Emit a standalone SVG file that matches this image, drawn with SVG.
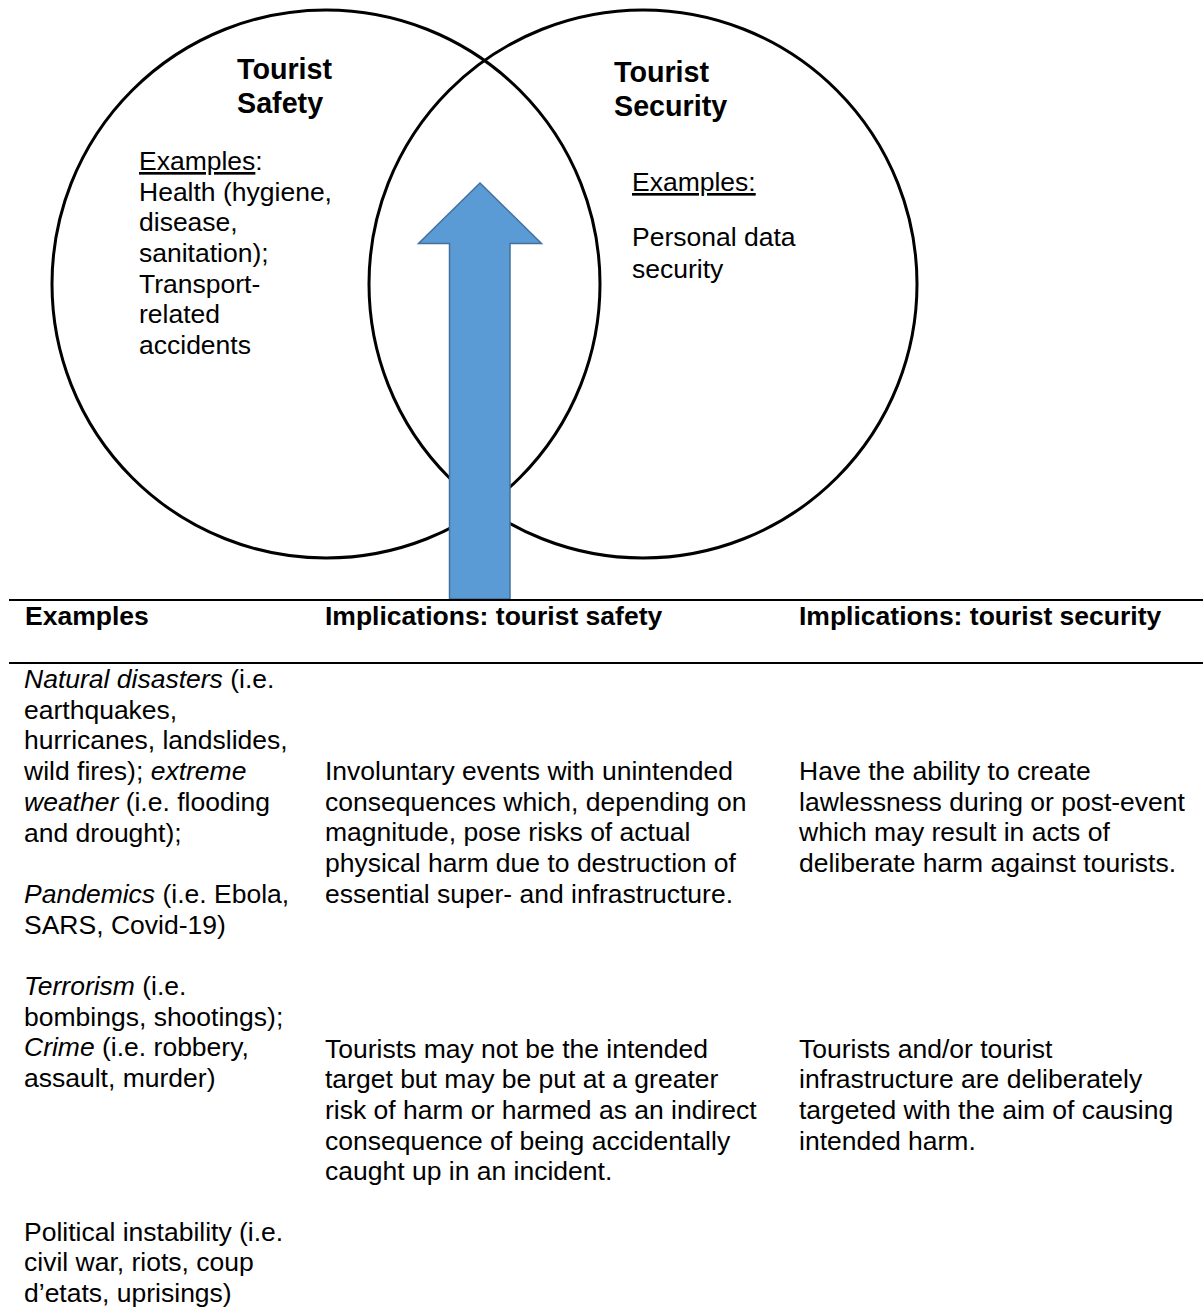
<svg xmlns="http://www.w3.org/2000/svg" width="1203" height="1307" viewBox="0 0 1203 1307">
<style>
.t{font-family:"Liberation Sans",Arial,sans-serif;font-size:26.5px;fill:#000}
.h{font-family:"Liberation Sans",Arial,sans-serif;font-size:28.7px;font-weight:bold;fill:#000}
.b{font-weight:bold}
.i{font-style:italic}
.u{text-decoration:underline}
.ring{fill:none;stroke:#000;stroke-width:3}
.rule{stroke:#000;stroke-width:2.2}
.arrow{fill:#5B9BD5;stroke:#41719C;stroke-width:1.5}
</style>
<rect width="1203" height="1307" fill="#fff"/>
<g id="safety">
  <circle class="ring" cx="326" cy="284" r="274"/>
  <text class="h" x="237" y="79">Tourist</text>
  <text class="h" x="237" y="113">Safety</text>
  <text class="t" x="139" y="170"><tspan class="u">Examples</tspan>:</text>
  <text class="t" x="139" y="200.7">Health (hygiene,</text>
  <text class="t" x="139" y="231.4">disease,</text>
  <text class="t" x="139" y="262">sanitation);</text>
  <text class="t" x="139" y="292.7">Transport-</text>
  <text class="t" x="139" y="323.4">related</text>
  <text class="t" x="139" y="354">accidents</text>
</g>
<g id="security">
  <circle class="ring" cx="643" cy="284" r="274"/>
  <text class="h" x="614" y="82">Tourist</text>
  <text class="h" x="614" y="116">Security</text>
  <text class="t u" x="632" y="191">Examples:</text>
  <text class="t" x="632" y="246">Personal data</text>
  <text class="t" x="632" y="277.5">security</text>
</g>
<g id="connectors">
  <polygon class="arrow" points="480,183 541.5,243.5 510,243.5 510,599 449.5,599 449.5,243.5 418.5,243.5"/>
</g>
<g id="table">
  <line class="rule" x1="9" y1="600" x2="1203" y2="600"/>
  <line class="rule" x1="9" y1="663" x2="1203" y2="663"/>
  <text class="t b" x="25" y="625">Examples</text>
  <text class="t b" x="325" y="625">Implications: tourist safety</text>
  <text class="t b" x="799" y="625">Implications: tourist security</text>

  <text class="t" x="24" y="688"><tspan class="i">Natural disasters</tspan> (i.e.</text>
  <text class="t" x="24" y="718.7">earthquakes,</text>
  <text class="t" x="24" y="749.4">hurricanes, landslides,</text>
  <text class="t" x="24" y="780.1">wild fires); <tspan class="i">extreme</tspan></text>
  <text class="t" x="24" y="810.8"><tspan class="i">weather</tspan> (i.e. flooding</text>
  <text class="t" x="24" y="841.5">and drought);</text>
  <text class="t" x="24" y="902.9"><tspan class="i">Pandemics</tspan> (i.e. Ebola,</text>
  <text class="t" x="24" y="933.6">SARS, Covid-19)</text>
  <text class="t" x="24" y="995"><tspan class="i">Terrorism</tspan> (i.e.</text>
  <text class="t" x="24" y="1025.7">bombings, shootings);</text>
  <text class="t" x="24" y="1056.4"><tspan class="i">Crime</tspan> (i.e. robbery,</text>
  <text class="t" x="24" y="1087.1">assault, murder)</text>
  <text class="t" x="24" y="1240.6">Political instability (i.e.</text>
  <text class="t" x="24" y="1271.3">civil war, riots, coup</text>
  <text class="t" x="24" y="1302">d’etats, uprisings)</text>

  <text class="t" x="325" y="780">Involuntary events with unintended</text>
  <text class="t" x="325" y="810.7">consequences which, depending on</text>
  <text class="t" x="325" y="841.4">magnitude, pose risks of actual</text>
  <text class="t" x="325" y="872.1">physical harm due to destruction of</text>
  <text class="t" x="325" y="902.8">essential super- and infrastructure.</text>

  <text class="t" x="325" y="1057.5">Tourists may not be the intended</text>
  <text class="t" x="325" y="1088.2">target but may be put at a greater</text>
  <text class="t" x="325" y="1118.9">risk of harm or harmed as an indirect</text>
  <text class="t" x="325" y="1149.6">consequence of being accidentally</text>
  <text class="t" x="325" y="1180.3">caught up in an incident.</text>

  <text class="t" x="799" y="780">Have the ability to create</text>
  <text class="t" x="799" y="810.7">lawlessness during or post-event</text>
  <text class="t" x="799" y="841.4">which may result in acts of</text>
  <text class="t" x="799" y="872.1">deliberate harm against tourists.</text>

  <text class="t" x="799" y="1057.5">Tourists and/or tourist</text>
  <text class="t" x="799" y="1088.2">infrastructure are deliberately</text>
  <text class="t" x="799" y="1118.9">targeted with the aim of causing</text>
  <text class="t" x="799" y="1149.6">intended harm.</text>
</g>
</svg>
